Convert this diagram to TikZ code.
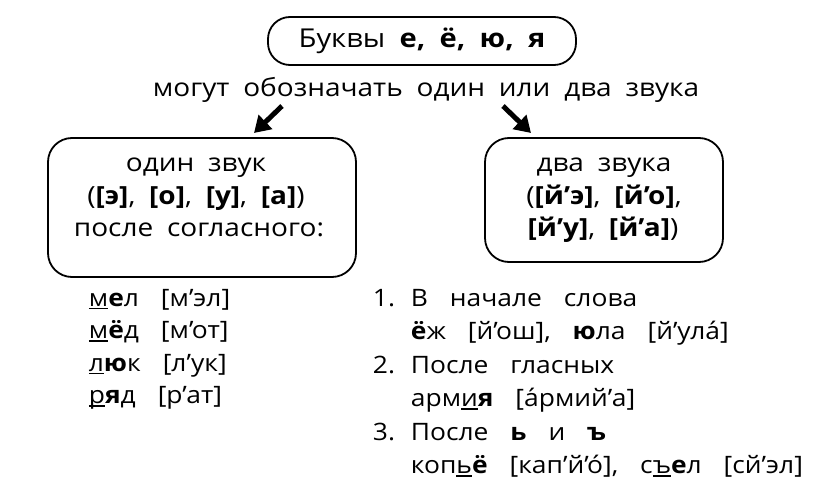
\documentclass[tikz,border=0pt]{standalone}
\usepackage{fontspec}
\setmainfont{Open Sans}[FakeStretch=1.1,WordSpace=3.2]
\newfontfamily\condfont{Open Sans}[FakeStretch=1.12,WordSpace=1.9]
\usetikzlibrary{arrows.meta}
\newcommand\undl[1]{\setbox0\hbox{#1}\rlap{\rule[-3pt]{\wd0}{1.3pt}}#1}

\begin{document}
\begin{tikzpicture}[x=1pt, y=-1pt, line width=1.8pt,
        title_style/.style={draw, rounded corners=22pt, minimum width=308pt, minimum height=48pt, inner sep=0pt, font=\condfont\fontsize{26}{30}\selectfont},
        frame_style/.style={draw, rounded corners=24pt, inner sep=0pt},
        cond_style/.style={anchor=base, inner sep=0pt, font=\condfont\fontsize{25}{30}\selectfont},
        list_style/.style={anchor=base west, inner sep=0pt, font=\fontsize{24}{28}\selectfont},
        arrow_style/.style={draw=black, line width=5pt, -{Triangle[length=16pt,width=19pt]}}]
        \useasboundingbox (0,0) rectangle (836,489);

        \node [title_style](t1) at (422,41) {Буквы \textbf{е, ё, ю, я}};
        \node [cond_style](verb) at (426,97) {могут обозначать один или два звука};

        \node [frame_style, minimum width=308pt, minimum height=139pt](f1) at (202,207.5) {};
        \node [frame_style, minimum width=238pt, minimum height=124pt](f2) at (604,200) {};

        \node [cond_style](f1a) at (196,172) {один звук};
        \node [cond_style](f1b) at (196,205) {(\textbf{[э]}, \textbf{[о]}, \textbf{[у]}, \textbf{[а]})};
        \node [cond_style](f1c) at (199,237) {после согласного:};
        \node [cond_style](f2a) at (604,172) {два звука};
        \node [cond_style](f2b) at (604,205) {(\textbf{[й’э]}, \textbf{[й’о]},};
        \node [cond_style](f2c) at (603,237) {\textbf{[й’у]}, \textbf{[й’а]})};

        \coordinate (a1) at (282,106);
        \coordinate (a1h) at (254,133);
        \coordinate (a2) at (503,106);
        \coordinate (a2h) at (531,133);
        \draw [arrow_style] (a1) -- (a1h);
        \draw [arrow_style] (a2) -- (a2h);

        \node [list_style](m1) at (88,306) {\undl{м}\textbf{е}л [м’эл]};
        \node [list_style](m2) at (88,338.5) {\undl{м}\textbf{ё}д [м’от]};
        \node [list_style](m3) at (88,371) {\undl{л}\textbf{ю}к [л’ук]};
        \node [list_style](m4) at (88,403.5) {\undl{р}\textbf{я}д [р’ат]};

        \node [list_style](k1) at (372,306) {1.};
        \node [list_style](k2) at (372,373) {2.};
        \node [list_style](k3) at (372,440) {3.};
        \node [list_style](r1) at (410,306) {В начале слова};
        \node [list_style](r2) at (410,339.5) {\textbf{ё}ж [й’ош], \textbf{ю}ла [й’ула́]};
        \node [list_style](r3) at (410,373) {После гласных};
        \node [list_style](r4) at (410,406.5) {арм\undl{и}\textbf{я} [а́рмий’а]};
        \node [list_style](r5) at (410,440) {После \textbf{ь} и \textbf{ъ}};
        \node [list_style](r6) at (410,473.5) {коп\undl{ь}\textbf{ё} [кап’й’о́], с\undl{ъ}\textbf{е}л [сй’эл]};
        \end{tikzpicture}
\end{document}
